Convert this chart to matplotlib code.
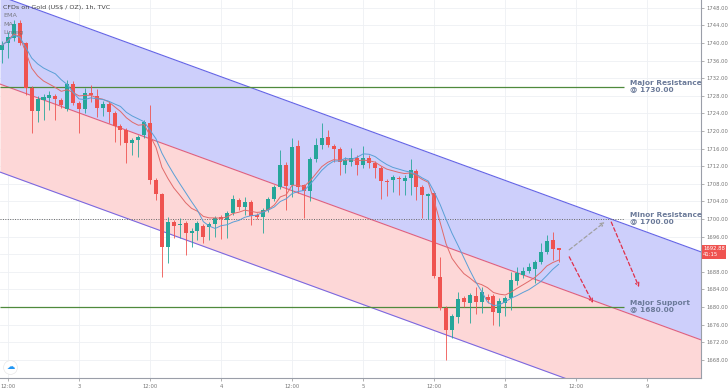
import numpy as np
import pandas as pd
import matplotlib
matplotlib.use("Agg")
import matplotlib.pyplot as plt

# hourly candles, bar index 0 = day 2 12:00
bars = np.arange(-1, 94)
opens = [1738.5, 1740.0, 1741.1, 1744.5, 1740.0, 1729.8, 1724.5, 1727.0, 1727.5, 1728.0,
         1727.0, 1725.0, 1730.7, 1726.4, 1725.0, 1728.6, 1728.0, 1725.2, 1726.1, 1724.1,
         1721.1, 1720.2, 1717.3, 1718.0, 1719.1, 1721.8, 1708.9, 1705.7, 1693.6, 1699.3,
         1698.7, 1699.1, 1696.8, 1697.3, 1698.4, 1698.2, 1698.9, 1700.5, 1699.8, 1701.4,
         1704.3, 1702.7, 1703.9, 1700.9, 1700.5, 1702.0, 1704.5, 1707.3, 1712.3, 1707.7,
         1716.6, 1707.7, 1706.4, 1713.6, 1716.8, 1718.6, 1716.6, 1715.9, 1712.3, 1713.0,
         1713.9, 1712.3, 1713.9, 1712.7, 1711.6, 1708.6, 1708.9, 1709.3, 1708.6, 1709.3,
         1710.9, 1707.3, 1705.2, 1705.9, 1686.8, 1679.8, 1674.8, 1677.7, 1682.0, 1680.9,
         1682.5, 1681.1, 1682.3, 1682.5, 1678.6, 1680.9, 1682.0, 1685.9, 1687.3, 1688.2,
         1688.6, 1690.2, 1692.5, 1695.2, 1693.3]
highs = [1740.5, 1742.5, 1745.2, 1745.3, 1740.3, 1730.2, 1728.0, 1728.3, 1729.0, 1728.5,
         1727.5, 1731.6, 1731.4, 1726.8, 1729.8, 1730.5, 1729.5, 1726.8, 1726.6, 1724.6,
         1721.5, 1720.6, 1718.5, 1719.0, 1722.5, 1725.9, 1709.3, 1706.0, 1700.5, 1699.8,
         1700.2, 1699.5, 1698.0, 1699.5, 1698.9, 1699.3, 1700.6, 1701.0, 1701.8, 1705.5,
         1704.7, 1705.0, 1704.3, 1701.4, 1702.5, 1705.0, 1707.8, 1715.7, 1713.0, 1718.4,
         1718.0, 1708.0, 1714.0, 1718.4, 1721.8, 1720.2, 1717.0, 1716.3, 1714.0, 1716.1,
         1714.5, 1716.6, 1714.5, 1713.2, 1712.0, 1709.0, 1710.0, 1709.8, 1710.0, 1713.6,
         1711.3, 1707.7, 1706.0, 1706.3, 1691.4, 1680.3, 1678.5, 1683.4, 1682.5, 1683.2,
         1684.5, 1684.5, 1683.0, 1683.0, 1682.0, 1682.5, 1688.0, 1689.0, 1689.0, 1690.0,
         1690.6, 1694.5, 1696.4, 1697.0, 1693.5]
lows = [1735.5, 1736.6, 1740.5, 1739.5, 1728.2, 1719.5, 1722.0, 1722.5, 1724.8, 1722.5,
        1725.3, 1724.5, 1726.0, 1719.5, 1724.1, 1726.5, 1723.2, 1723.5, 1721.8, 1717.5,
        1716.8, 1712.7, 1714.5, 1714.1, 1718.5, 1708.0, 1704.3, 1686.8, 1690.0, 1695.7,
        1695.7, 1691.8, 1693.6, 1695.2, 1694.5, 1695.2, 1696.0, 1695.5, 1695.7, 1701.0,
        1702.0, 1700.9, 1698.6, 1700.0, 1696.8, 1701.5, 1704.0, 1706.8, 1702.0, 1705.0,
        1705.9, 1700.2, 1704.0, 1713.0, 1716.0, 1716.3, 1713.0, 1710.0, 1710.5, 1712.0,
        1710.0, 1711.5, 1711.5, 1709.3, 1704.5, 1705.2, 1706.2, 1705.5, 1705.5, 1705.5,
        1704.3, 1700.2, 1700.0, 1686.5, 1679.3, 1668.0, 1673.0, 1676.3, 1680.0, 1676.4,
        1678.5, 1678.6, 1680.8, 1675.9, 1675.7, 1678.0, 1679.3, 1685.0, 1686.5, 1687.7,
        1685.5, 1689.8, 1692.0, 1690.7, 1690.2]
closes = [1739.5, 1741.4, 1744.3, 1740.0, 1729.8, 1724.5, 1727.3, 1727.7, 1728.2, 1727.3,
          1725.9, 1730.7, 1726.4, 1725.0, 1728.6, 1728.2, 1725.2, 1726.1, 1724.3, 1721.1,
          1720.2, 1717.3, 1718.0, 1718.6, 1722.0, 1708.9, 1705.7, 1693.6, 1699.3, 1698.4,
          1698.9, 1696.8, 1697.3, 1699.1, 1695.9, 1698.9, 1700.2, 1700.0, 1701.4, 1704.5,
          1702.7, 1703.9, 1700.7, 1700.5, 1702.0, 1704.5, 1707.3, 1712.3, 1707.5, 1716.4,
          1707.3, 1706.4, 1713.6, 1716.8, 1718.4, 1716.8, 1715.9, 1713.0, 1713.4, 1713.9,
          1712.3, 1713.9, 1712.7, 1711.6, 1708.6, 1708.4, 1709.5, 1709.1, 1709.3, 1711.1,
          1707.3, 1705.5, 1705.7, 1687.0, 1679.8, 1674.8, 1678.0, 1681.8, 1681.1, 1682.7,
          1681.1, 1683.4, 1681.6, 1678.9, 1681.4, 1682.0, 1686.1, 1687.7, 1688.2, 1689.1,
          1690.2, 1692.5, 1695.0, 1693.2, 1692.88]

tick_pos = [0, 12, 24, 36, 48, 60, 72, 84, 96, 108]
tick_labels = ["12:00", "3", "12:00", "4", "12:00", "5", "12:00", "8", "12:00", "9"]
price_ticks = np.arange(1668, 1749, 4)

# linear regression channel
lr_mid0 = 1730.0
lr_slope = -0.491
lr_dev = 20.0

levels = [1730.0, 1700.0, 1680.0]
level_names = ["Major Resistance", "Minor Resistance", "Major Support"]

# projected paths (bar, price)
path_up = [(94.8, 1693.0), (100.8, 1699.3)]
path_down1 = [(94.8, 1691.4), (98.8, 1680.9)]
path_down2 = [(101.9, 1699.3), (106.6, 1684.5)]

up_col = "#26a69a"
dn_col = "#ef5350"

fig = plt.figure(figsize=(7.28, 3.91), dpi=100)
ax = fig.add_axes([0, 13 / 391, 701 / 728, 378 / 391])
xmin, xmax = -1.35, 117.06
ymin, ymax = 1663.86, 1749.77
ax.set_xlim(xmin, xmax)
ax.set_ylim(ymin, ymax)

# grid
for t in tick_pos:
    ax.axvline(t, color="#eef0f4", lw=0.6, zorder=0)
for p in price_ticks:
    ax.axhline(p, color="#eef0f4", lw=0.6, zorder=0)

# channel
xs = np.array([xmin, xmax])
mid = lr_mid0 + lr_slope * xs
ax.fill_between(xs, mid, mid + lr_dev, color="#cdcffb", zorder=1, lw=0)
ax.fill_between(xs, mid - lr_dev, mid, color="#fdd7d7", zorder=1, lw=0)
ax.plot(xs, mid + lr_dev, color="#6464e6", lw=0.8, zorder=2)
ax.plot(xs, mid, color="#e0607e", lw=0.8, zorder=2)
ax.plot(xs, mid - lr_dev, color="#7b68e0", lw=0.8, zorder=2)

# levels
lvl_end = 104.0
ax.hlines(levels[0], xmin, lvl_end, color="#4f8a3c", lw=0.9, zorder=3)
ax.hlines(levels[2], xmin, lvl_end, color="#4f8a3c", lw=0.9, zorder=3)
ax.hlines(levels[1], xmin, lvl_end, color="#666666", lw=0.7, linestyles=(0, (1, 1.5)), zorder=3)
for lv, name in zip(levels, level_names):
    ax.text(105.1, lv + 0.2, f"{name}\n@ {lv:.2f}", fontsize=5.3, fontweight="bold",
            color="#6b7a99", va="center", ha="left", linespacing=0.95, zorder=6)

# candles
o = np.array(opens); h = np.array(highs); l = np.array(lows); c = np.array(closes)
cols = np.where(c >= o, up_col, dn_col)
ax.vlines(bars, l, h, colors=cols, lw=0.6, zorder=4)
ax.bar(bars, np.maximum(np.abs(c - o), 0.25), bottom=np.minimum(o, c), width=0.68,
       color=cols, zorder=4, lw=0)

# moving averages
s = pd.Series(closes)
ema = s.ewm(span=9).mean()
sma = s.rolling(10, min_periods=1).mean()
ax.plot(bars, ema, color="#e06a6a", lw=0.7, zorder=5)
ax.plot(bars, sma, color="#5a9fd6", lw=0.7, zorder=5)

# projections
def arrow(pts, col):
    ax.annotate("", xy=pts[1], xytext=pts[0],
                arrowprops=dict(arrowstyle="->", color=col, lw=0.9, linestyle=(0, (3, 2)),
                                shrinkA=0, shrinkB=0, mutation_scale=6), zorder=6)

arrow(path_up, "#a0a0a0")
arrow(path_down1, "#e0304a")
arrow(path_down2, "#e0304a")

# axes styling
for sp in ["left", "top"]:
    ax.spines[sp].set_visible(False)
for sp in ["right", "bottom"]:
    ax.spines[sp].set_color("#9a9ea8")
    ax.spines[sp].set_linewidth(0.8)
ax.yaxis.tick_right()
ax.set_yticks(price_ticks)
# the last-price tag covers the 1692 label
ax.set_yticklabels(["" if p == 1692 else f"{p:.2f}" for p in price_ticks])
ax.set_xticks(tick_pos)
ax.set_xticklabels(tick_labels)
ax.tick_params(axis="y", labelsize=3.8, colors="#777777", length=2, width=0.4, pad=2)
ax.tick_params(axis="x", labelsize=3.8, colors="#777777", length=2, width=0.4, pad=2)

# last price tag
ax.text(1.003, closes[-1] - 0.35, f"{closes[-1]:.2f}\n41:15", transform=ax.get_yaxis_transform(),
        fontsize=3.8, color="white", ha="left", va="center", linespacing=1.2,
        bbox=dict(boxstyle="square,pad=0.25", fc="#ef5350", ec="none"), clip_on=False, zorder=7)

# header
hdr_x = xmin + 0.5
ax.text(hdr_x, ymax - 1.8, "CFDs on Gold (US$ / OZ), 1h, TVC", fontsize=4.6, color="#444444",
        ha="left", va="center", zorder=7)
for k, name in enumerate(["EMA", "MA", "Linreg"]):
    ax.text(hdr_x, ymax - 3.6 - 1.95 * k, name, fontsize=4.6, color="#666666", alpha=0.8,
            ha="left", va="center", zorder=7)

# logo
ax.plot([0.4], [1666.4], marker="o", ms=10, mfc="white", mec="#e8e8e8", mew=0.5, zorder=7)
ax.text(0.4, 1666.4, "\u2601", fontsize=6, color="#2196f3", ha="center", va="center", zorder=8)

fig.savefig("out.png", dpi=100)
